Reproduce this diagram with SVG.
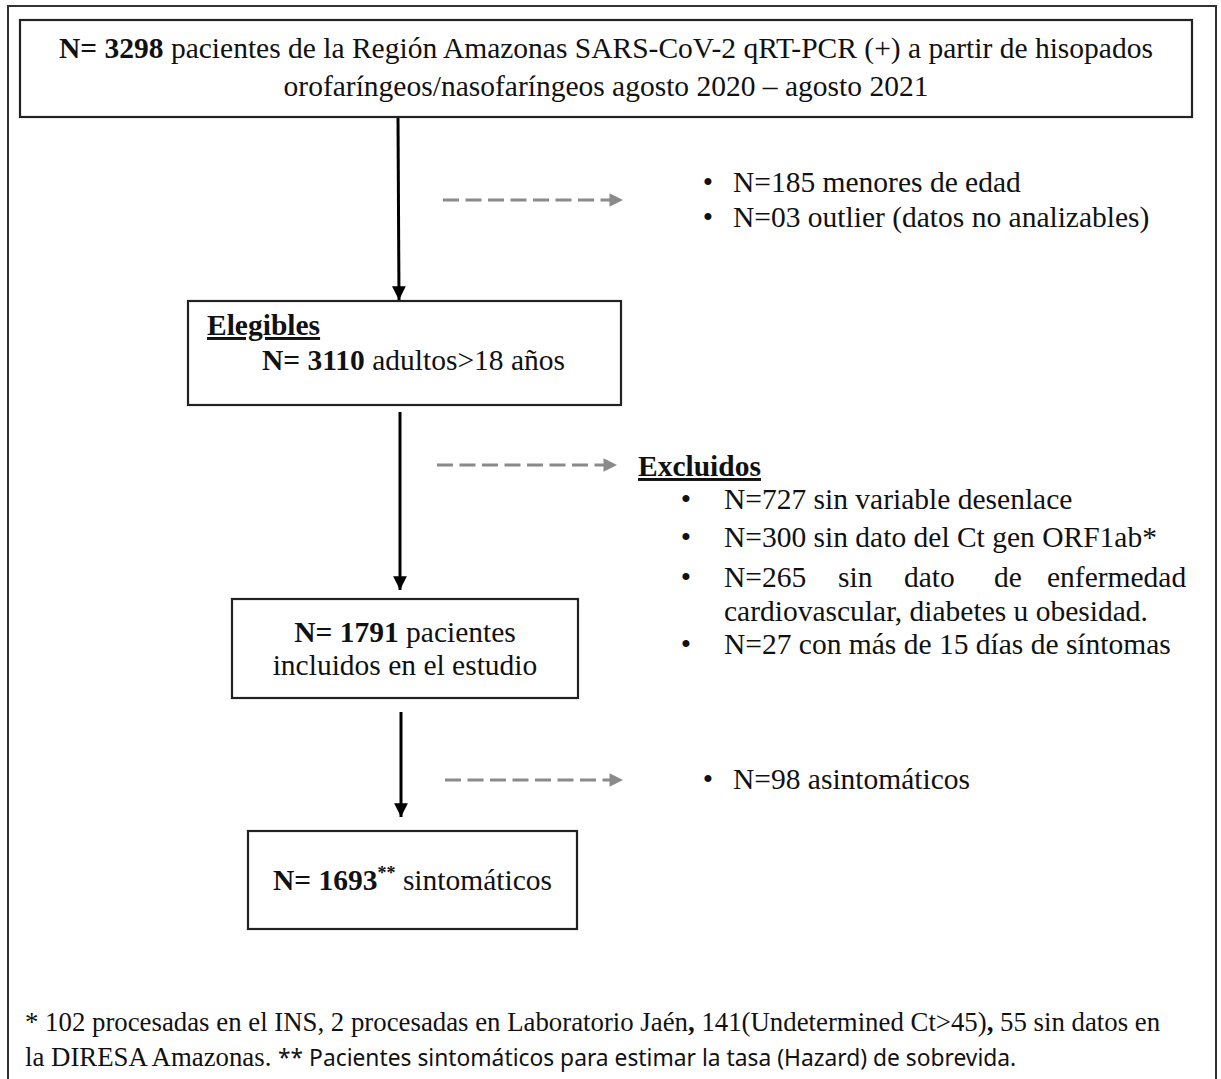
<svg xmlns="http://www.w3.org/2000/svg" width="1221" height="1079" viewBox="0 0 1221 1079">
<defs>
<marker id="ah" viewBox="0 0 10 10" refX="10" refY="5" markerWidth="5" markerHeight="4.6" orient="auto" markerUnits="strokeWidth"><path d="M0,0 L10,5 L0,10 z" fill="#000"/></marker>
<marker id="ahg" viewBox="0 0 10 10" refX="10" refY="5" markerWidth="5" markerHeight="4.5" orient="auto" markerUnits="strokeWidth"><path d="M0,0 L10,5 L0,10 z" fill="#8a8a8a"/></marker>
<style>
text{font-family:"Liberation Serif","Times New Roman",serif;font-size:29.5px;fill:#111}
.b{font-weight:bold}
.u{text-decoration:underline}
.box{fill:#fff;stroke:#222;stroke-width:2.2}
.main{stroke:#000;stroke-width:3;fill:none;marker-end:url(#ah)}
.dash{stroke:#8a8a8a;stroke-width:3;stroke-dasharray:16 6.5;fill:none;marker-end:url(#ahg)}
.foot{font-size:26.8px}
.sans{font-family:"Noto Sans","Open Sans",sans-serif;font-size:22.8px}
</style>
</defs>
<rect x="8" y="6" width="1208" height="1090" fill="#fff" stroke="#333" stroke-width="2"/>
<g id="connectors">
<line class="main" x1="398" y1="118" x2="399" y2="300"/>
<line class="main" x1="400" y1="412" x2="400" y2="590"/>
<line class="main" x1="401" y1="712" x2="401" y2="817"/>
<line class="dash" x1="443" y1="200" x2="623" y2="200"/>
<line class="dash" x1="437" y1="465" x2="617" y2="465"/>
<line class="dash" x1="445" y1="780" x2="623" y2="780"/>
</g>
<g id="node-total">
<rect class="box" x="20" y="20" width="1172" height="97"/>
<text x="606" y="58" text-anchor="middle"><tspan class="b">N= 3298</tspan> pacientes de la Región Amazonas SARS-CoV-2 qRT-PCR (+) a partir de hisopados</text>
<text x="606" y="96" text-anchor="middle">orofaríngeos/nasofaríngeos agosto 2020 – agosto 2021</text>
</g>
<g id="node-excl1">
<text x="708" y="192" text-anchor="middle">•</text>
<text x="733" y="192">N=185 menores de edad</text>
<text x="708" y="227" text-anchor="middle">•</text>
<text x="733" y="227">N=03 outlier (datos no analizables)</text>
</g>
<g id="node-elegibles">
<rect class="box" x="188" y="301" width="433" height="104"/>
<text x="207" y="335" class="b u">Elegibles</text>
<text x="262" y="370"><tspan class="b">N= 3110</tspan> adultos&gt;18 años</text>
</g>
<g id="node-excluidos">
<text x="638" y="476" class="b u">Excluidos</text>
<text x="686" y="509" text-anchor="middle">•</text>
<text x="724" y="509">N=727 sin variable desenlace</text>
<text x="686" y="547" text-anchor="middle">•</text>
<text x="724" y="547">N=300 sin dato del Ct gen ORF1ab*</text>
<text x="686" y="587" text-anchor="middle">•</text>
<text y="587"><tspan x="724">N=265</tspan><tspan x="838">sin</tspan><tspan x="904">dato</tspan><tspan x="994">de</tspan><tspan x="1047">enfermedad</tspan></text>
<text x="724" y="621">cardiovascular, diabetes u obesidad.</text>
<text x="686" y="654" text-anchor="middle">•</text>
<text x="724" y="654">N=27 con más de 15 días de síntomas</text>
</g>
<g id="node-incluidos">
<rect class="box" x="232" y="599" width="346" height="99"/>
<text x="405" y="642" text-anchor="middle"><tspan class="b">N= 1791</tspan> pacientes</text>
<text x="405" y="675" text-anchor="middle">incluidos en el estudio</text>
</g>
<g id="node-excl3">
<text x="708" y="789" text-anchor="middle">•</text>
<text x="733" y="789">N=98 asintomáticos</text>
</g>
<g id="node-sintomaticos">
<rect class="box" x="248" y="831" width="329" height="98"/>
<text x="273" y="890"><tspan class="b">N= 1693</tspan><tspan class="b" font-size="18" dy="-11">**</tspan><tspan dy="11"> sintomáticos</tspan></text>
</g>
<g id="footnote">
<text class="foot" x="25" y="1031">* 102 procesadas en el INS, 2 procesadas en Laboratorio Jaén<tspan class="b">,</tspan> 141(Undetermined Ct&gt;45)<tspan class="b">,</tspan> 55 sin datos en</text>
<text class="foot" x="25" y="1066">la DIRESA Amazonas. <tspan class="sans">** Pacientes sintomáticos para estimar la tasa (Hazard) de sobrevida.</tspan></text>
</g>
</svg>
